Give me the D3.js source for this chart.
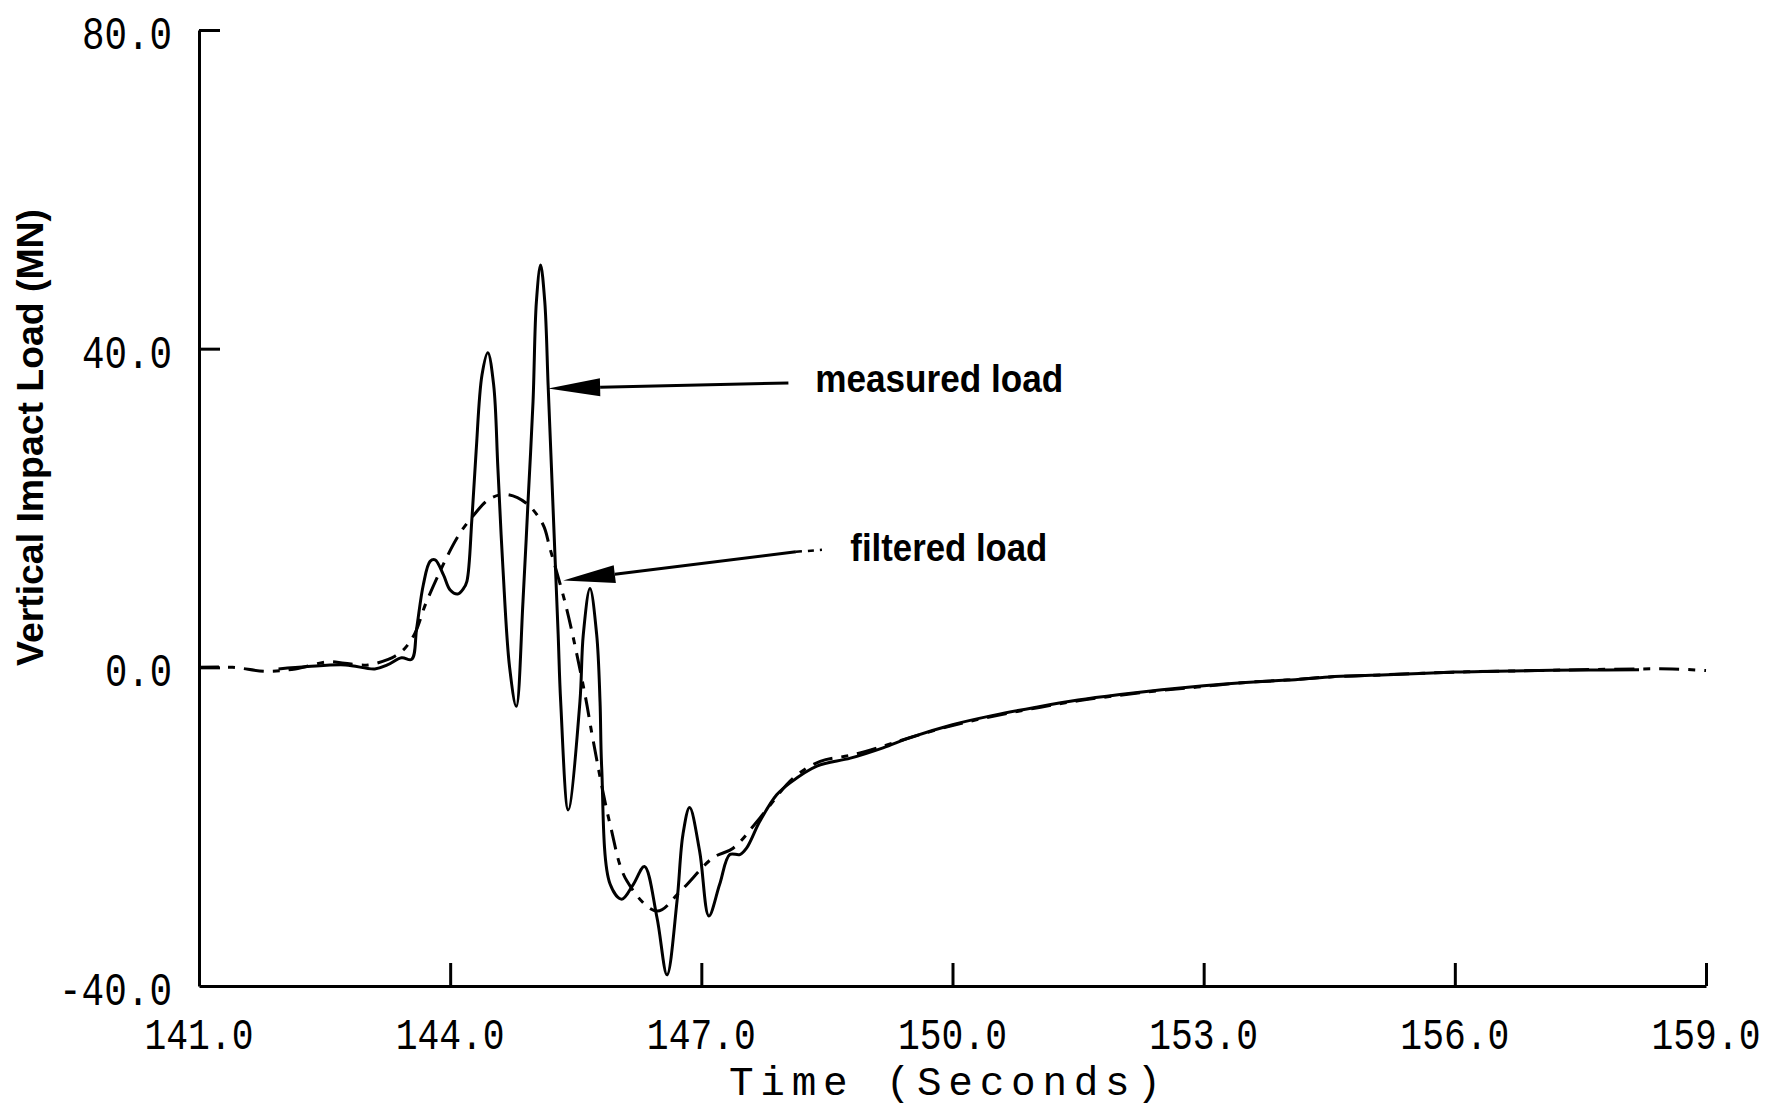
<!DOCTYPE html>
<html>
<head>
<meta charset="utf-8">
<script src="https://cdn.jsdelivr.net/npm/d3@7"></script>
<style>
  html, body { margin: 0; padding: 0; background: #fff; }
  svg { display: block; }
</style>
</head>
<body>
<script>
// ---------- data ----------
const xTicks = [141, 144, 147, 150, 153, 156, 159];
const yTicks = [80, 40, 0, -40];
const xTickLabels = ["141.0", "144.0", "147.0", "150.0", "153.0", "156.0", "159.0"];
const yTickLabels = ["80.0", "40.0", "0.0", "-40.0"];

const measuredT = [141.95, 142.3, 142.75, 143.1, 143.25, 143.42, 143.54, 143.6, 143.68, 143.76, 143.82, 143.92, 144.0, 144.09, 144.16, 144.2, 144.26, 144.31, 144.38, 144.45, 144.52, 144.57, 144.63, 144.71, 144.79, 144.87, 144.93, 144.99, 145.03, 145.08, 145.13, 145.17, 145.21, 145.25, 145.29, 145.32, 145.41, 145.55, 145.59, 145.67, 145.75, 145.79, 145.81, 145.91, 146.05, 146.19, 146.32, 146.47, 146.59, 146.71, 146.78, 146.86, 146.98, 147.09, 147.22, 147.34, 147.46, 147.54, 147.7, 147.9, 148.06, 148.38, 148.78, 149.17, 149.5, 150.0, 150.5, 151.0, 151.5, 152.0, 152.5, 153.0, 153.5, 154.0, 154.5, 155.0, 155.5, 156.0, 156.5, 157.0, 157.5, 158.2];
const measuredV = [-0.2, 0.1, 0.3, -0.2, 0.3, 1.2, 1.0, 4.9, 10.4, 13.3, 13.5, 11.6, 9.7, 9.2, 9.9, 10.8, 18.7, 27.1, 36.7, 39.5, 35.4, 25.0, 12.5, 0.0, -4.9, 8.3, 20.8, 33.4, 45.9, 50.5, 45.9, 35.4, 25.0, 14.5, 4.1, -4.3, -17.9, -4.3, 4.1, 9.9, 4.1, -4.3, -12.6, -27.2, -29.1, -27.2, -25.0, -31.4, -38.6, -29.3, -21.0, -17.6, -23.1, -31.2, -27.2, -23.5, -23.5, -22.7, -19.3, -16.0, -14.5, -12.4, -11.4, -10.1, -8.8, -7.2, -6.0, -5.0, -4.1, -3.4, -2.8, -2.3, -1.9, -1.6, -1.2, -1.0, -0.8, -0.6, -0.5, -0.4, -0.35, -0.3];

const filteredT = [141.0, 141.4, 141.8, 142.15, 142.55, 142.74, 143.02, 143.26, 143.34, 143.46, 143.58, 143.72, 144.08, 144.28, 144.48, 144.68, 144.91, 145.11, 145.19, 145.39, 145.61, 145.71, 145.91, 146.11, 146.47, 146.75, 147.14, 147.38, 147.7, 148.1, 148.42, 148.8, 149.2, 149.5, 150.0, 150.5, 151.0, 151.5, 152.0, 152.5, 153.0, 153.5, 154.0, 154.5, 155.0, 155.5, 156.0, 156.5, 157.0, 157.5, 158.2, 158.6, 159.0];
const filteredV = [0.0, 0.0, -0.5, -0.2, 0.7, 0.5, 0.3, 1.0, 1.4, 2.4, 4.3, 8.3, 16.2, 19.1, 21.2, 21.7, 20.6, 17.9, 15.0, 7.4, -3.4, -9.3, -19.7, -26.8, -30.6, -28.1, -23.9, -22.7, -18.9, -13.9, -11.8, -11.0, -9.8, -8.8, -7.3, -6.1, -5.1, -4.2, -3.5, -2.9, -2.4, -1.9, -1.6, -1.2, -1.0, -0.8, -0.6, -0.5, -0.4, -0.3, -0.2, -0.2, -0.4];

// annotations in data units: label, tail (t,v), tip (t,v), label anchor (t,v)
const annoLabels = ["measured load", "filtered load"];
const annoTail = [[148.04, 35.7], [148.13, 14.5]];
const annoTip = [[145.17, 35.0], [145.35, 10.9]];
const annoText = [[148.36, 34.6], [148.78, 13.4]];
const annoTextLen = [248, 197];

const xTitle = "Time (Seconds)";
const yTitle = "Vertical Impact Load (MN)";

// ---------- drawing ----------
const W = 1771, H = 1108;
const svg = d3.select("body").append("svg").attr("width", W).attr("height", H);

const x = d3.scaleLinear().domain([141, 159]).range([199, 1706]);
const y = d3.scaleLinear().domain([-40, 80]).range([986, 30]);

const monoFont = "'Liberation Mono', 'DejaVu Sans Mono', monospace";
const sansBold = "'Liberation Sans', Arial, sans-serif";

// axes
const gx = svg.append("g").attr("transform", `translate(0,${y(-40)})`)
  .call(d3.axisBottom(x).tickValues(xTicks).tickSize(-23).tickSizeOuter(0).tickFormat(""));
const gy = svg.append("g").attr("transform", `translate(${x(141)},0)`)
  .call(d3.axisLeft(y).tickValues(yTicks.filter(d => d !== -40)).tickSize(-21).tickSizeOuter(0).tickFormat(""));
[gx, gy].forEach(g => {
  g.selectAll("path.domain").attr("stroke", "#000").attr("stroke-width", 3);
  g.selectAll(".tick line").attr("stroke", "#000").attr("stroke-width", 3);
});

// tick labels
svg.append("g").selectAll("text").data(xTicks).join("text")
  .attr("x", d => x(d)).attr("y", y(-40) + 63)
  .attr("text-anchor", "middle")
  .attr("font-family", monoFont).attr("font-size", 44)
  .attr("textLength", (d, i) => xTickLabels[i].length * 23 - 6)
  .attr("lengthAdjust", "spacingAndGlyphs")
  .text((d, i) => xTickLabels[i]);

svg.append("g").selectAll("text").data(yTicks).join("text")
  .attr("x", 172).attr("y", d => y(d) + 19)
  .attr("text-anchor", "end")
  .attr("font-family", monoFont).attr("font-size", 46)
  .attr("textLength", (d, i) => yTickLabels[i].length * 23 - 2)
  .attr("lengthAdjust", "spacingAndGlyphs")
  .text((d, i) => yTickLabels[i]);

// axis titles
svg.append("text")
  .attr("x", 945).attr("y", 1095)
  .attr("text-anchor", "middle")
  .attr("font-family", monoFont).attr("font-size", 41)
  .attr("textLength", 432).attr("lengthAdjust", "spacing")
  .text(xTitle);

svg.append("text")
  .attr("transform", `translate(43,${(209 + 666) / 2}) rotate(-90)`)
  .attr("text-anchor", "middle")
  .attr("font-family", sansBold).attr("font-weight", "bold").attr("font-size", 36)
  .attr("textLength", 457).attr("lengthAdjust", "spacingAndGlyphs")
  .text(yTitle);

// lines
const line = d3.line().x(d => x(d[0])).y(d => y(d[1])).curve(d3.curveCatmullRom.alpha(0.5));
const filtered = filteredT.map((t, i) => [t, filteredV[i]]);
const measured = measuredT.map((t, i) => [t, measuredV[i]]);

svg.append("path").datum(filtered)
  .attr("d", line).attr("fill", "none").attr("stroke", "#000")
  .attr("stroke-width", 3).attr("stroke-dasharray", "20,9,7,9");

svg.append("path").datum(measured)
  .attr("d", line).attr("fill", "none").attr("stroke", "#000")
  .attr("stroke-width", 3).attr("stroke-linejoin", "round");

// annotations
annoLabels.forEach((lab, i) => {
  const [tx, ty] = [x(annoTip[i][0]), y(annoTip[i][1])];
  const [sx, sy] = [x(annoTail[i][0]), y(annoTail[i][1])];
  const ang = Math.atan2(sy - ty, sx - tx);
  const L = 52, hw = 9;
  const bx = tx + L * Math.cos(ang), by = ty + L * Math.sin(ang);
  const px = -Math.sin(ang) * hw, py = Math.cos(ang) * hw;
  svg.append("line").attr("x1", sx).attr("y1", sy).attr("x2", bx).attr("y2", by)
    .attr("stroke", "#000").attr("stroke-width", 3);
  svg.append("path")
    .attr("d", `M${tx},${ty}L${bx + px},${by + py}L${bx},${by}L${bx - px},${by - py}Z`)
    .attr("fill", "#000");
  svg.append("text")
    .attr("x", x(annoText[i][0])).attr("y", y(annoText[i][1]))
    .attr("font-family", sansBold).attr("font-weight", "bold").attr("font-size", 38)
    .attr("textLength", annoTextLen[i]).attr("lengthAdjust", "spacingAndGlyphs")
    .text(lab);
});
// dashed trail after filtered arrow
svg.append("line")
  .attr("x1", x(annoTail[1][0])).attr("y1", y(annoTail[1][1]))
  .attr("x2", x(annoTail[1][0]) + 26).attr("y2", y(annoTail[1][1]) - 2)
  .attr("stroke", "#000").attr("stroke-width", 2.5).attr("stroke-dasharray", "6,6");
</script>
</body>
</html>
